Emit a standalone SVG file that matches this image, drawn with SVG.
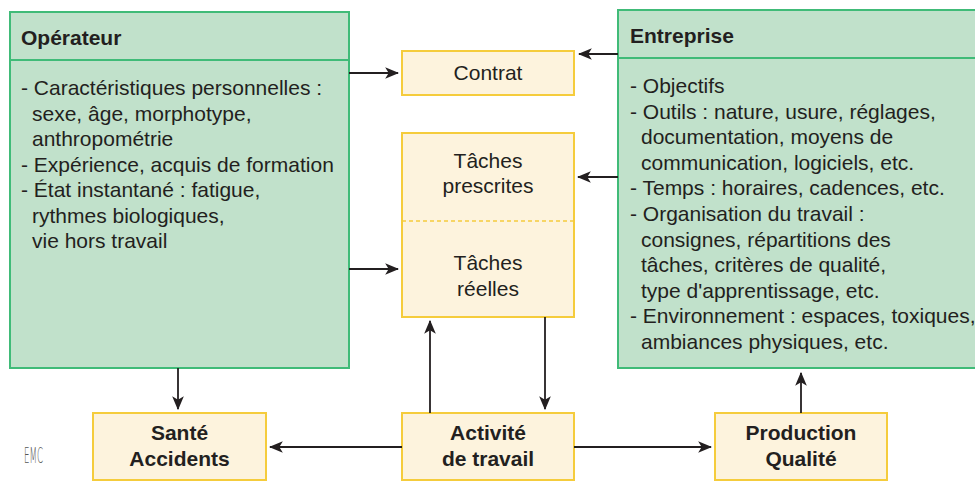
<svg xmlns="http://www.w3.org/2000/svg" width="975" height="481" viewBox="0 0 975 481">
<style>
.g{fill:#c1e1cb;stroke:#40bb78;stroke-width:2}
.y{fill:#fdf3dd;stroke:#f5cc3c;stroke-width:2}
text{font-family:"Liberation Sans",Arial,sans-serif;font-size:21px;fill:#231f20}
.b{font-weight:bold}
.c{text-anchor:middle}
.ln{stroke:#231f20;stroke-width:1.8;fill:none;marker-end:url(#ah)}
</style>
<defs>
<marker id="ah" markerUnits="userSpaceOnUse" markerWidth="14" markerHeight="12" viewBox="0 0 12 10" refX="11" refY="5" orient="auto">
<path d="M0,0 L12,5 L0,10 L3,5 z" fill="#231f20"/>
</marker>
</defs>
<rect width="975" height="481" fill="#fff"/>

<g id="operateur">
<rect class="g" x="10" y="12" width="339" height="356"/>
<line x1="10" y1="60" x2="349" y2="60" stroke="#40bb78" stroke-width="2"/>
<text class="b" x="21" y="45">Opérateur</text>
<text x="21" y="95">- Caractéristiques personnelles :</text>
<text x="32" y="120.5">sexe, âge, morphotype,</text>
<text x="32" y="146">anthropométrie</text>
<text x="21" y="171.5">- Expérience, acquis de formation</text>
<text x="21" y="197">- État instantané : fatigue,</text>
<text x="32" y="222.5">rythmes biologiques,</text>
<text x="32" y="248">vie hors travail</text>
</g>

<g id="entreprise">
<rect class="g" x="618" y="10" width="370" height="358"/>
<line x1="618" y1="58" x2="980" y2="58" stroke="#40bb78" stroke-width="2"/>
<text class="b" x="630" y="43">Entreprise</text>
<text x="630" y="93">- Objectifs</text>
<text x="630" y="118.6">- Outils : nature, usure, réglages,</text>
<text x="641" y="144.2">documentation, moyens de</text>
<text x="641" y="169.8">communication, logiciels, etc.</text>
<text x="630" y="195.4">- Temps : horaires, cadences, etc.</text>
<text x="630" y="221">- Organisation du travail :</text>
<text x="641" y="246.6">consignes, répartitions des</text>
<text x="641" y="272.2">tâches, critères de qualité,</text>
<text x="641" y="297.8">type d'apprentissage, etc.</text>
<text x="630" y="323.4">- Environnement : espaces, toxiques,</text>
<text x="641" y="349">ambiances physiques, etc.</text>
</g>

<g id="contrat">
<rect class="y" x="402" y="51" width="172" height="44"/>
<text class="c" x="488" y="80">Contrat</text>
</g>

<g id="taches">
<rect class="y" x="402" y="133" width="172" height="184"/>
<line x1="402" y1="221" x2="574" y2="221" stroke="#f5cc3c" stroke-width="1.5" stroke-dasharray="4,3"/>
<text class="c" x="488" y="168">Tâches</text>
<text class="c" x="488" y="193">prescrites</text>
<text class="c" x="488" y="270">Tâches</text>
<text class="c" x="488" y="296">réelles</text>
</g>

<g id="sante">
<rect class="y" x="93" y="413" width="173" height="67"/>
<text class="c b" x="179.5" y="440">Santé</text>
<text class="c b" x="179.5" y="466">Accidents</text>
</g>

<g id="activite">
<rect class="y" x="402" y="413" width="172" height="67"/>
<text class="c b" x="488" y="440">Activité</text>
<text class="c b" x="488" y="466">de travail</text>
</g>

<g id="production">
<rect class="y" x="715" y="413" width="172" height="67"/>
<text class="c b" x="801" y="440">Production</text>
<text class="c b" x="801" y="466">Qualité</text>
</g>

<g id="connectors">
<line class="ln" x1="349" y1="73" x2="398" y2="73"/>
<line class="ln" x1="349" y1="269" x2="398" y2="269"/>
<line class="ln" x1="618" y1="54" x2="579" y2="54"/>
<line class="ln" x1="618" y1="177" x2="578" y2="177"/>
<line class="ln" x1="178" y1="368" x2="178" y2="409"/>
<line class="ln" x1="402" y1="447" x2="270" y2="447"/>
<line class="ln" x1="574" y1="447" x2="711" y2="447"/>
<line class="ln" x1="430" y1="413" x2="430" y2="321"/>
<line class="ln" x1="545" y1="317" x2="545" y2="409"/>
<line class="ln" x1="801" y1="413" x2="801" y2="373"/>
</g>

<text x="24" y="463" style="font-family:'DejaVu Sans',sans-serif;font-size:21px;font-weight:200;fill:#555" textLength="19" lengthAdjust="spacingAndGlyphs">EMC</text>
</svg>
